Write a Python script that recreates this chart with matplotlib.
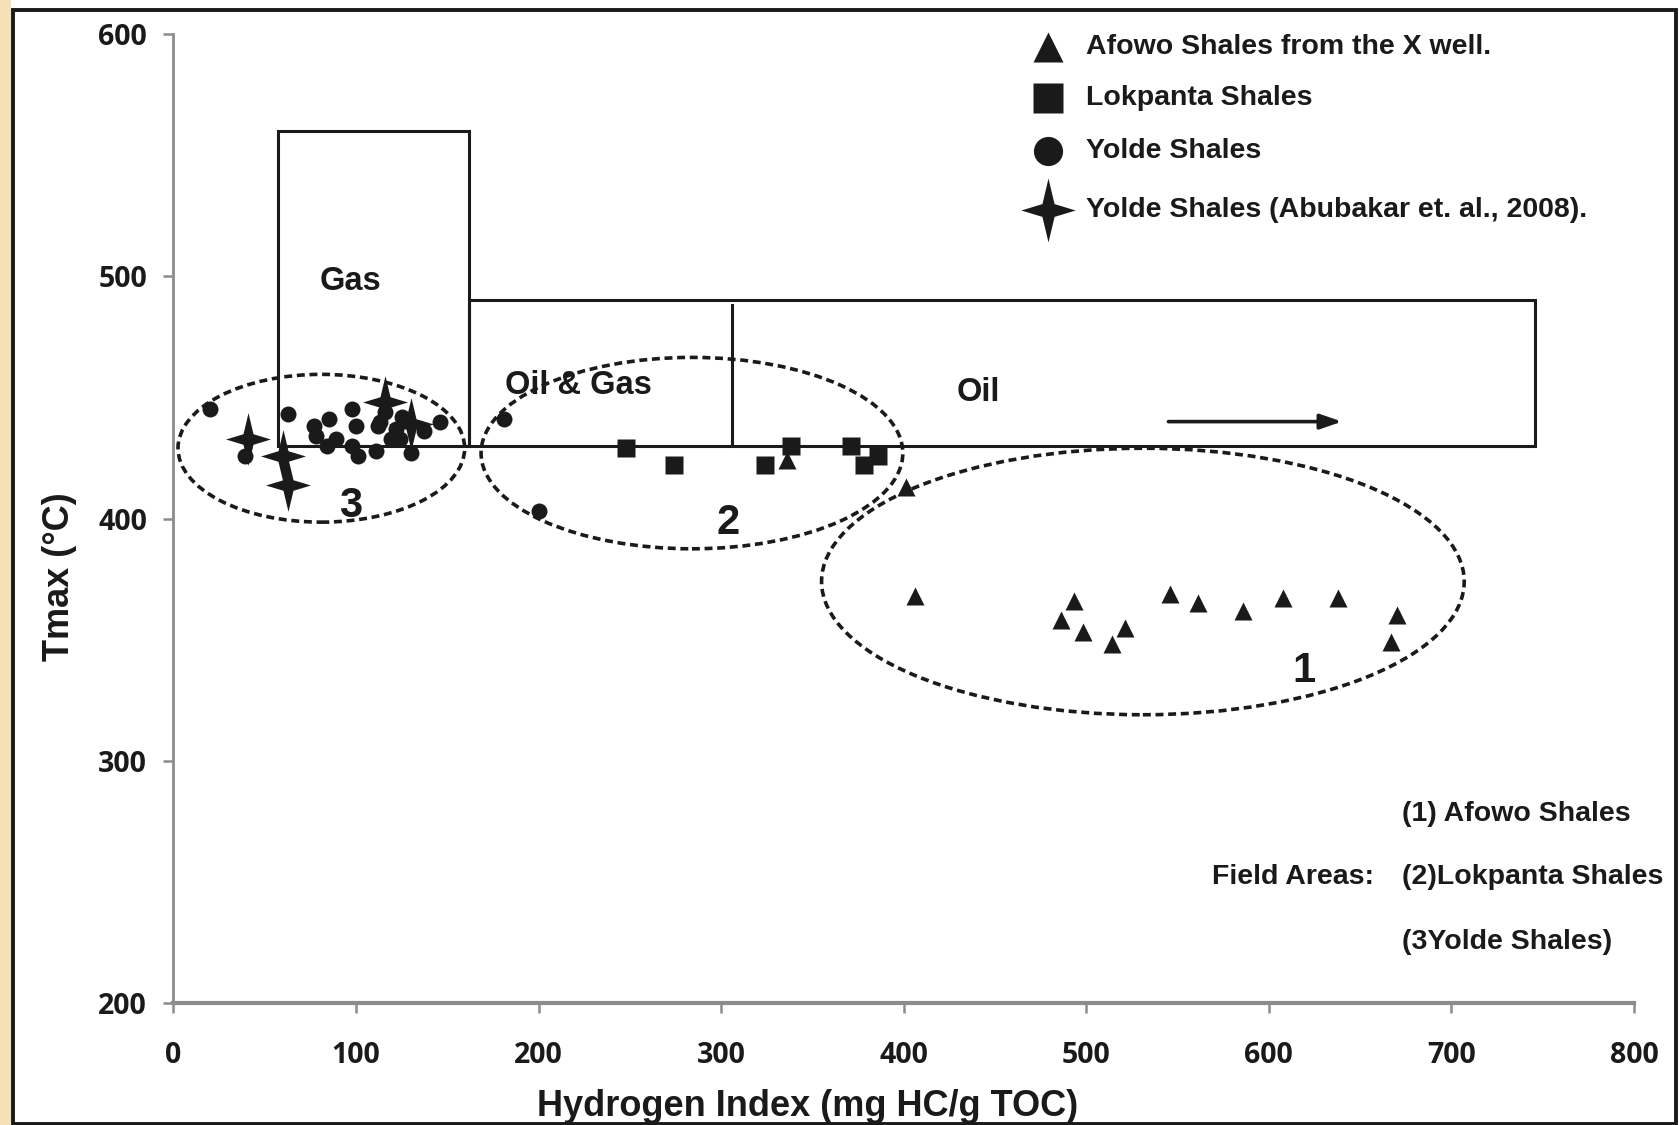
import matplotlib
matplotlib.use("Agg")
import matplotlib.pyplot as plt
from matplotlib.patches import Rectangle, Ellipse

# Afowo shales (X well) - triangles
afowo_hi = [336, 401, 406, 486, 493, 498, 514, 521, 546, 561, 586, 608, 638, 667, 670]
afowo_tmax = [424, 413, 368, 358, 366, 353, 348, 355, 369, 365, 362, 367, 367, 349, 360]

# Lokpanta shales - squares
lok_hi = [248, 274, 324, 338, 371, 378, 386]
lok_tmax = [429, 422, 422, 430, 430, 422, 426]

# Yolde shales - circles
yolde_hi = [20, 39, 63, 77, 78, 84, 85, 89, 98, 98, 100, 101, 111, 112, 119,
            124, 130, 137, 146, 113, 122, 125, 116, 181, 200]
yolde_tmax = [445, 426, 443, 438, 434, 430, 441, 433, 430, 445, 438, 426, 428, 438, 433,
              433, 427, 436, 440, 440, 437, 442, 444, 441, 403]

# Yolde shales (Abubakar et al., 2008) - stars
abu_hi = [41, 60, 63, 116, 130]
abu_tmax = [433, 426, 414, 448, 439]

legend_labels = ["Afowo Shales from the X well.", "Lokpanta Shales",
                 "Yolde Shales", "Yolde Shales (Abubakar et. al., 2008)."]

TXT = "Liberation Sans"
TICK = "Open Sans"
INK = "#1a1a1a"
GRAY = "#8c8c8c"

# 4 point star marker
star = [(0, 1), (0.19, 0.2), (0.85, 0), (0.19, -0.2), (0, -1),
        (-0.19, -0.2), (-0.85, 0), (-0.19, 0.2), (0, 1)]

fig = plt.figure(figsize=(16.79, 11.25), dpi=100)
fig.patch.set_facecolor("white")
# beige strip + frame
fig.patches.append(Rectangle((0, 0), 0.0065, 1, transform=fig.transFigure,
                             facecolor="#f4e2b4", edgecolor="none", zorder=0))
fig.patches.append(Rectangle((0.0078, 0.0008), 0.9905, 0.9905, transform=fig.transFigure,
                             facecolor="none", edgecolor=INK, lw=2.8, zorder=1))

ax = fig.add_axes([0.1033, 0.1084, 0.8699, 0.8614])
ax.set_xlim(0, 800)
ax.set_ylim(200, 600)

for s in ["top", "right"]:
    ax.spines[s].set_visible(False)
ax.spines["left"].set_color(GRAY)
ax.spines["left"].set_linewidth(2.0)
ax.spines["bottom"].set_color(GRAY)
ax.spines["bottom"].set_linewidth(3.0)
ax.tick_params(axis="both", direction="out", length=7, width=1.8, color=GRAY)
ax.tick_params(axis="y", pad=12)
ax.tick_params(axis="x", pad=20)
ax.set_xticks(range(0, 801, 100))
ax.set_yticks(range(200, 601, 100))
for lab in ax.get_xticklabels() + ax.get_yticklabels():
    lab.set_fontfamily(TICK)
    lab.set_fontweight("bold")
    lab.set_fontsize(20.5)
    lab.set_color(INK)

ax.set_xlabel("Hydrogen Index (mg HC/g TOC)", fontfamily=TXT, fontweight="bold",
              fontsize=26, color=INK)
ax.set_ylabel("Tmax (°C)", fontfamily=TXT, fontweight="bold", fontsize=26, color=INK)
ax.xaxis.set_label_coords(0.434, -0.089)
ax.yaxis.set_label_coords(-0.066, 0.44)

# maturity field boxes
box_kw = dict(facecolor="none", edgecolor=INK, lw=2.2, zorder=2)
ax.add_patch(Rectangle((57, 430), 105, 130, **box_kw))
ax.add_patch(Rectangle((162, 430), 584, 60, **box_kw))
ax.plot([306, 306], [430, 488], color=INK, lw=2.2, zorder=2)
ax.annotate("", xy=(640, 440), xytext=(545, 440),
            arrowprops=dict(arrowstyle="-|>,head_length=1.3,head_width=0.45",
                            color=INK, lw=2.6, shrinkA=0, shrinkB=0))

for x, y, t in [(97, 498, "Gas"), (222, 455, "Oil & Gas"), (441, 452, "Oil")]:
    ax.text(x, y, t, fontfamily=TXT, fontweight="bold", fontsize=23.5,
            color=INK, ha="center", va="center")

# field area ellipses
ell_kw = dict(facecolor="none", edgecolor=INK, lw=2.6, linestyle=(0, (2.2, 1.3)), zorder=2)
ax.add_patch(Ellipse((81, 429), 157, 61, **ell_kw))
ax.add_patch(Ellipse((284, 427), 231, 79, **ell_kw))
ax.add_patch(Ellipse((531, 374), 352, 110, **ell_kw))
for x, y, t in [(97, 405, "3"), (304, 398, "2"), (619, 337, "1")]:
    ax.text(x, y, t, fontfamily=TXT, fontweight="bold", fontsize=30, color=INK,
            ha="center", va="center")

# data
ax.plot(yolde_hi, yolde_tmax, "o", ms=11.5, color=INK, mec="none", zorder=4)
ax.plot(lok_hi, lok_tmax, "s", ms=12.5, color=INK, mec="none", zorder=4)
ax.plot(afowo_hi, afowo_tmax, "^", ms=12.5, color=INK, mec="none", zorder=4)
ax.plot(abu_hi, abu_tmax, marker=star, ls="none", ms=38, color=INK, mec="none", zorder=5)

# legend (manual)
leg_y = [594.5, 573.5, 551.5, 527.5]
leg_m = ["^", "s", "o", star]
leg_ms = [21, 21, 21, 46]
for y, m, ms, lab in zip(leg_y, leg_m, leg_ms, legend_labels):
    ax.plot([479], [y], marker=m, ms=ms, color=INK, mec="none", ls="none", clip_on=False)
    ax.text(500, y, lab, fontfamily=TXT, fontweight="bold", fontsize=20.5, color=INK,
            ha="left", va="center")

# field area notes
note_kw = dict(fontfamily=TXT, fontweight="bold", fontsize=20.5, color=INK,
               ha="left", va="center")
ax.text(673, 278, "(1) Afowo Shales", **note_kw)
ax.text(569, 252, "Field Areas:", **note_kw)
ax.text(673, 252, "(2)Lokpanta Shales", **note_kw)
ax.text(673, 225, "(3Yolde Shales)", **note_kw)

fig.savefig("out.png", dpi=100)
